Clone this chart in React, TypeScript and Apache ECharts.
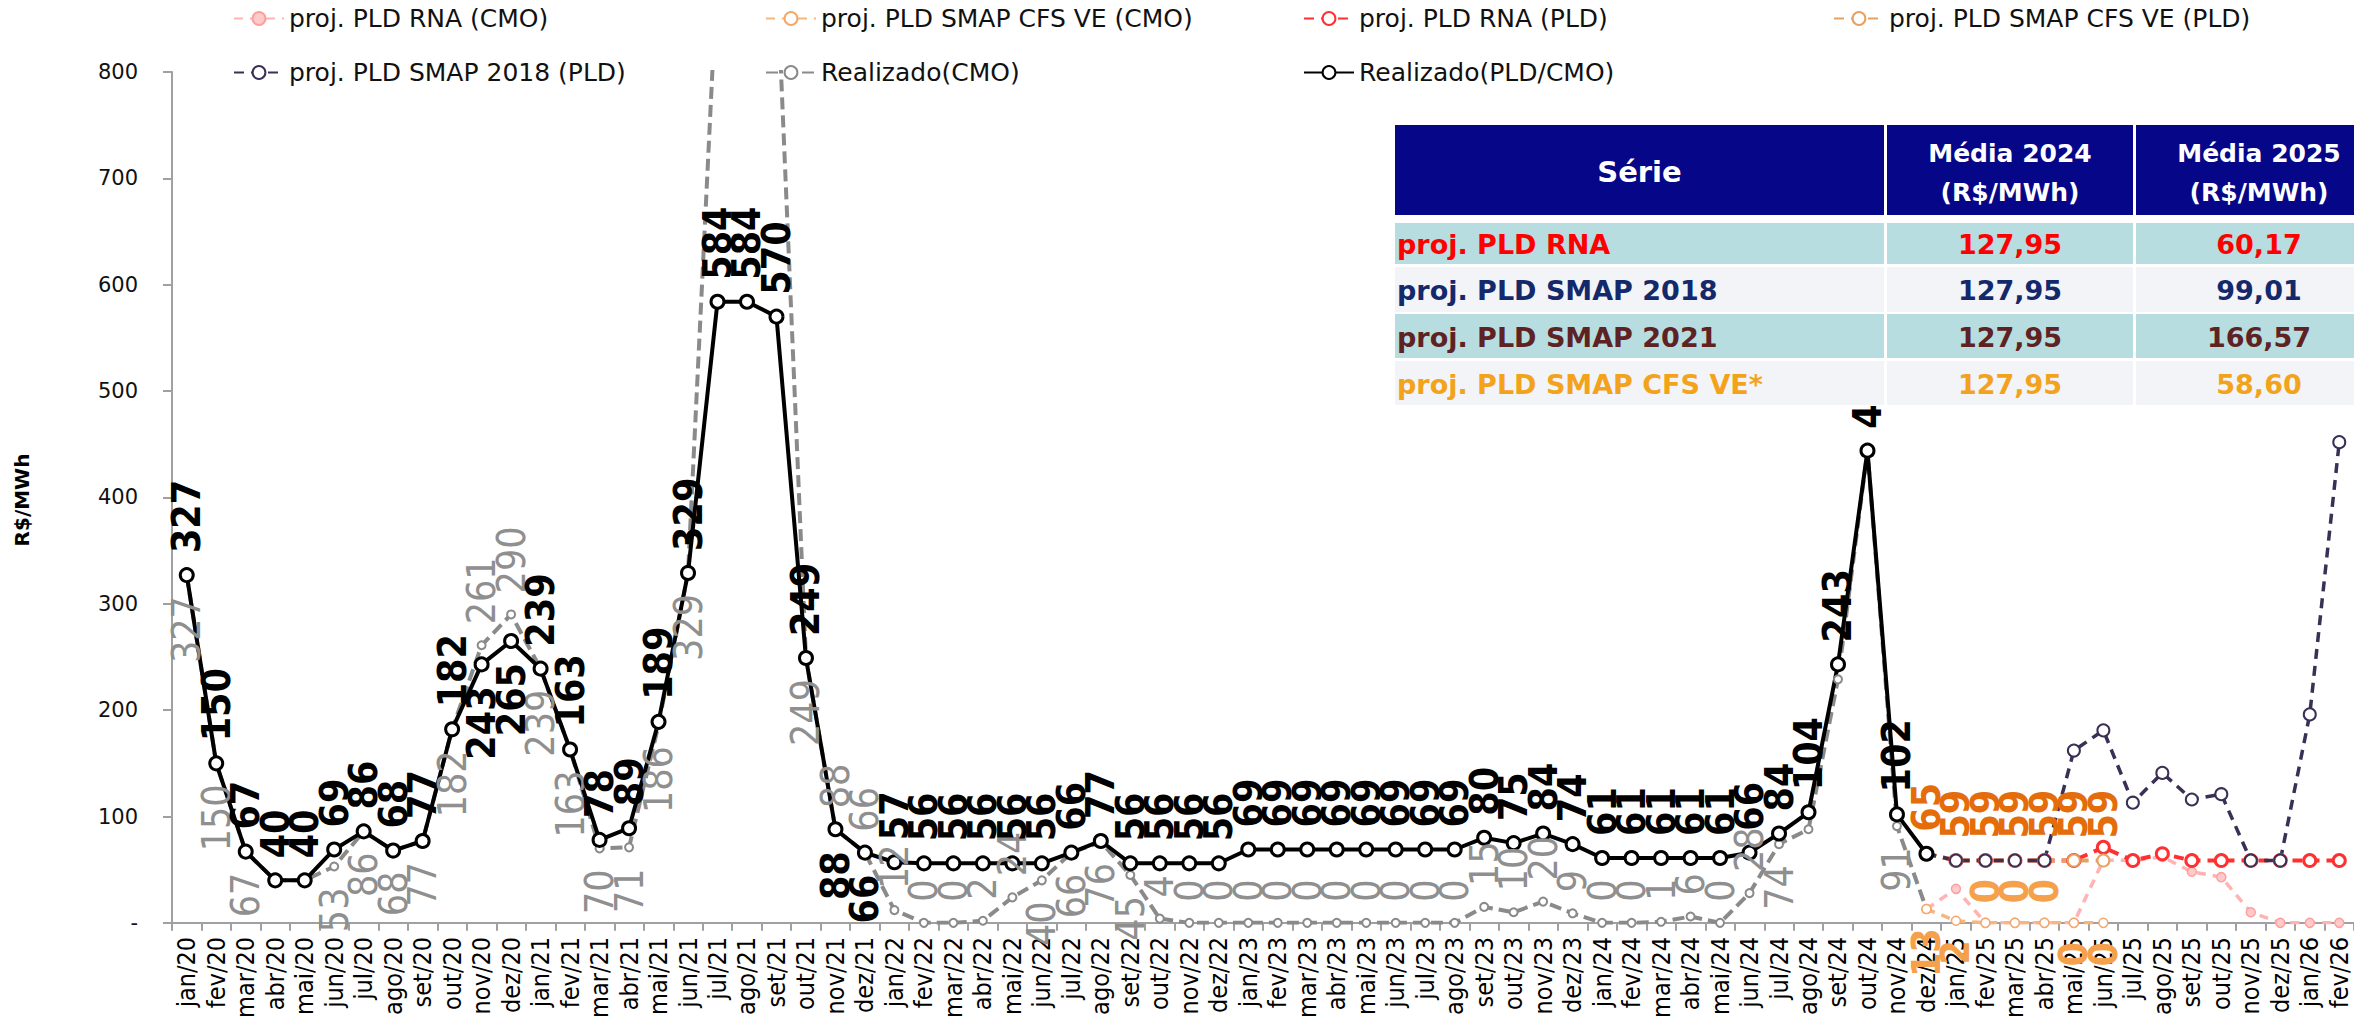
import React, { useEffect, useRef } from 'react';
import * as echarts from 'echarts';

// ---------- DATA ----------
const months = ['jan', 'fev', 'mar', 'abr', 'mai', 'jun', 'jul', 'ago', 'set', 'out', 'nov', 'dez'];
const years = ['20', '21', '22', '23', '24', '25', '26'];
const categories: string[] = years.flatMap((y) => months.map((m) => `${m}/${y}`)).slice(0, 74);

// Realizado (jan/20 .. dez/24)
const realizadoPLD = [
  327, 150, 67, 40, 40, 69, 86, 68, 77, 182, 243, 265,
  239, 163, 78, 89, 189, 329, 584, 584, 570, 249, 88, 66,
  57, 56, 56, 56, 56, 56, 66, 77, 56, 56, 56, 56,
  69, 69, 69, 69, 69, 69, 69, 69, 80, 75, 84, 74,
  61, 61, 61, 61, 61, 66, 84, 104, 243, 444, 102, 65,
];
const realizadoCMO = [
  327, 150, 67, 40, 40, 53, 86, 68, 77, 182, 261, 290,
  239, 163, 70, 71, 186, 329, 900, 1000, 900, 249, 88, 66,
  12, 0, 0, 2, 24, 40, 66, 76, 45, 4, 0, 0,
  0, 0, 0, 0, 0, 0, 0, 0, 15, 10, 20, 9,
  0, 0, 1, 6, 0, 28, 74, 88, 229, 444, 91, 13,
];
// Projections, starting at dez/24
const projStart = 59;
const rnaCMO = [13, 32, 0, 0, 0, 0, 59, 58.6, 62, 48, 43, 10, 0, 0, 0];
const rnaPLD = [65, 58.6, 58.6, 58.6, 58.6, 58.6, 71, 58.6, 65, 58.6, 58.6, 58.6, 58.6, 58.6, 58.6];
const smap2018PLD = [65, 58.6, 58.6, 58.6, 58.6, 162, 181, 113, 141, 116, 121, 58.6, 58.6, 196, 452];
const cfsPLD = [65, 58.6, 58.6, 58.6, 58.6, 58.6, 58.6];
const cfsCMO = [13, 2, 0, 0, 0, 0, 0];

const yTicks = [0, 100, 200, 300, 400, 500, 600, 700, 800];

// Table
const tableHeader = ['Série', 'Média 2024\n(R$/MWh)', 'Média 2025\n(R$/MWh)'];
const tableSeries = ['proj. PLD RNA', 'proj. PLD SMAP 2018', 'proj. PLD SMAP 2021', 'proj. PLD SMAP CFS VE*'];
const media2024 = ['127,95', '127,95', '127,95', '127,95'];
const media2025 = ['60,17', '99,01', '166,57', '58,60'];

// ---------- STYLE ----------
const NARROW = "'Liberation Sans Narrow', 'DejaVu Sans Condensed', 'Liberation Sans', sans-serif";
const WIDE = "'DejaVu Sans', sans-serif";
const tableColors = ['#FF0000', '#14296B', '#5E2222', '#F2A31B'];
const rowFills = ['#B7DDE0', '#F3F4F8', '#B7DDE0', '#F3F4F8'];

const padRealized = (a: number[]) => categories.map((_, i) => (i < a.length ? a[i] : null));
const padProj = (a: number[]) => categories.map((_, i) => (i >= projStart && i - projStart < a.length ? a[i - projStart] : null));

const blackBelow = [10, 11, 22, 23];
const blackHidden = [59];
const grayAboveIdx = [10, 11, 22, 23];
const grayHidden = [3, 4, 18, 19, 20, 55, 56, 57, 59];
const cfsCmoAbove = [2, 3, 4];

const fmt = (p: any) => String(Math.round(Array.isArray(p.value) ? p.value[1] : p.value));

export default function App() {
  const ref = useRef<HTMLDivElement>(null);
  useEffect(() => {
    if (!ref.current) return;
    const chart = echarts.init(ref.current, undefined, { renderer: 'svg' });

    const blackData = padRealized(realizadoPLD).map((v, i) => {
      if (v == null) return null;
      if (blackHidden.includes(i)) return { value: v, label: { show: false } };
      if (blackBelow.includes(i)) return { value: v, label: { position: 'bottom', align: 'right' } };
      return { value: v };
    });
    const grayData = padRealized(realizadoCMO).map((v, i) => {
      if (v == null) return null;
      if (grayHidden.includes(i)) return { value: v, label: { show: false } };
      if (v < 35 || grayAboveIdx.includes(i)) return { value: v, label: { position: 'top', align: 'left' } };
      return { value: v };
    });
    const cfsCmoData = padProj(cfsCMO).map((v, i) => {
      if (v == null) return null;
      if (cfsCmoAbove.includes(i - projStart)) return { value: v, label: { position: 'top', align: 'left' } };
      return { value: v };
    });

    const labelBase = {
      show: true,
      rotate: 90,
      verticalAlign: 'middle',
      fontFamily: NARROW,
      fontSize: 39,
      formatter: fmt,
    };

    const series: any[] = [
      {
        name: 'Realizado(CMO)',
        type: 'line',
        data: grayData,
        symbol: 'circle',
        symbolSize: 8,
        showAllSymbol: true,
        lineStyle: { color: '#8A8A8A', width: 4, type: [12, 6] },
        itemStyle: { color: '#fff', borderColor: '#8A8A8A', borderWidth: 2 },
        label: { ...labelBase, position: 'bottom', align: 'right', distance: 16, color: '#8F8F8F', fontWeight: 'normal' },
      },
      {
        name: 'proj. PLD RNA (CMO)',
        type: 'line',
        data: padProj(rnaCMO),
        symbol: 'circle',
        symbolSize: 9,
        showAllSymbol: true,
        lineStyle: { color: '#FFB3B3', width: 3.5, type: [9, 7] },
        itemStyle: { color: '#FFCACA', borderColor: '#FF9E9E', borderWidth: 1.5 },
      },
      {
        name: 'proj. PLD SMAP CFS VE (CMO)',
        type: 'line',
        data: cfsCmoData,
        symbol: 'circle',
        symbolSize: 9,
        showAllSymbol: true,
        lineStyle: { color: '#F6B680', width: 3.5, type: [9, 7] },
        itemStyle: { color: '#fff', borderColor: '#F4A86A', borderWidth: 1.5 },
        label: { ...labelBase, position: 'bottom', align: 'right', distance: 14, color: '#F5A04A', fontWeight: 'bold' },
      },
      {
        name: 'proj. PLD RNA (PLD)',
        type: 'line',
        data: padProj(rnaPLD),
        symbol: 'circle',
        symbolSize: 12,
        showAllSymbol: true,
        lineStyle: { color: '#FF3030', width: 4, type: [10, 7] },
        itemStyle: { color: '#fff', borderColor: '#FF3030', borderWidth: 3 },
      },
      {
        name: 'proj. PLD SMAP CFS VE (PLD)',
        type: 'line',
        data: padProj(cfsPLD),
        symbol: 'circle',
        symbolSize: 12,
        showAllSymbol: true,
        lineStyle: { color: '#E2A266', width: 4, type: [10, 7] },
        itemStyle: { color: '#fff', borderColor: '#E8A060', borderWidth: 2 },
        label: { ...labelBase, position: 'top', align: 'left', distance: 15, color: '#E46C0A', fontWeight: 'bold' },
      },
      {
        name: 'proj. PLD SMAP 2018 (PLD)',
        type: 'line',
        data: padProj(smap2018PLD),
        symbol: 'circle',
        symbolSize: 12,
        showAllSymbol: true,
        lineStyle: { color: '#3A2F55', width: 3.5, type: [10, 7] },
        itemStyle: { color: '#fff', borderColor: '#3A2F55', borderWidth: 2 },
      },
      {
        name: 'Realizado(PLD/CMO)',
        type: 'line',
        data: blackData,
        symbol: 'circle',
        symbolSize: 13,
        showAllSymbol: true,
        lineStyle: { color: '#000', width: 4 },
        itemStyle: { color: '#fff', borderColor: '#000', borderWidth: 3 },
        label: { ...labelBase, position: 'top', align: 'left', distance: 14, color: '#000', fontWeight: 'bold' },
      },
    ];

    const legendPos = [
      { name: 'proj. PLD RNA (CMO)', left: 233, cy: 21 },
      { name: 'proj. PLD SMAP CFS VE (CMO)', left: 765, cy: 21 },
      { name: 'proj. PLD RNA (PLD)', left: 1303, cy: 21 },
      { name: 'proj. PLD SMAP CFS VE (PLD)', left: 1833, cy: 21 },
      { name: 'proj. PLD SMAP 2018 (PLD)', left: 233, cy: 75 },
      { name: 'Realizado(CMO)', left: 765, cy: 75 },
      { name: 'Realizado(PLD/CMO)', left: 1303, cy: 75 },
    ];
    const legends = legendPos.map((l) => ({
      data: [l.name],
      left: l.left,
      top: l.cy - 15,
      padding: 0,
      itemWidth: 50,
      itemHeight: 16,
      selectedMode: false,
      textStyle: { fontFamily: WIDE, fontSize: 25, color: '#111' },
    }));

    // Table graphics
    const x0 = 1395;
    const colX = [
      [1395, 1884],
      [1887, 2133],
      [2136, 2382],
    ];
    const rowY = [
      [223, 264],
      [267, 312],
      [314, 358],
      [361, 405],
    ];
    const graphics: any[] = [];
    graphics.push({ type: 'rect', z: 100, shape: { x: x0, y: 125, width: 2382 - x0, height: 405 - 125 }, style: { fill: '#fff' } });
    colX.forEach(([a, b], c) => {
      graphics.push({ type: 'rect', z: 101, shape: { x: a, y: 125, width: b - a, height: 90 }, style: { fill: '#060689' } });
      const lines = tableHeader[c].split('\n');
      if (lines.length === 1) {
        graphics.push({ type: 'text', z: 102, x: (a + b) / 2, y: 172, style: { text: lines[0], fill: '#fff', fontFamily: WIDE, fontWeight: 'bold', fontSize: 29, align: 'center', verticalAlign: 'middle' } });
      } else {
        lines.forEach((t, k) => {
          graphics.push({ type: 'text', z: 102, x: (a + b) / 2, y: k === 0 ? 153 : 192, style: { text: t, fill: '#fff', fontFamily: WIDE, fontWeight: 'bold', fontSize: 25, align: 'center', verticalAlign: 'middle' } });
        });
      }
    });
    rowY.forEach(([t, b], r) => {
      colX.forEach(([a, e]) => {
        graphics.push({ type: 'rect', z: 101, shape: { x: a, y: t, width: e - a, height: b - t }, style: { fill: rowFills[r] } });
      });
      const cy = (t + b) / 2 + 1;
      const st = { fill: tableColors[r], fontFamily: WIDE, fontWeight: 'bold', fontSize: 27, verticalAlign: 'middle' };
      graphics.push({ type: 'text', z: 102, x: 1397, y: cy, style: { ...st, text: tableSeries[r], align: 'left' } });
      graphics.push({ type: 'text', z: 102, x: (colX[1][0] + colX[1][1]) / 2, y: cy, style: { ...st, text: media2024[r], align: 'center' } });
      graphics.push({ type: 'text', z: 102, x: (colX[2][0] + colX[2][1]) / 2, y: cy, style: { ...st, text: media2025[r], align: 'center' } });
    });
    graphics.push({
      type: 'text', z: 102, x: 22, y: 500, rotation: Math.PI / 2,
      style: { text: 'R$/MWh', fill: '#000', fontFamily: WIDE, fontWeight: 'bold', fontSize: 20, align: 'center', verticalAlign: 'middle' },
    });

    chart.setOption({
      animation: false,
      backgroundColor: '#fff',
      grid: { left: 172, right: -2, top: 72, bottom: 80, containLabel: false },
      legend: legends,
      xAxis: {
        type: 'category',
        data: categories,
        boundaryGap: true,
        axisLine: { lineStyle: { color: '#A0A0A0', width: 2 } },
        axisTick: { show: true, interval: 0, length: 8, lineStyle: { color: '#A0A0A0', width: 2 } },
        axisLabel: { interval: 0, rotate: 90, margin: 14, color: '#000', fontFamily: NARROW, fontSize: 25 },
        splitLine: { show: false },
      },
      yAxis: {
        type: 'value',
        min: yTicks[0],
        max: yTicks[yTicks.length - 1],
        interval: 100,
        axisLine: { show: true, lineStyle: { color: '#A0A0A0', width: 2 } },
        axisTick: { show: true, length: 9, lineStyle: { color: '#A0A0A0', width: 2 } },
        axisLabel: { margin: 34, color: '#111', fontFamily: WIDE, fontSize: 21, formatter: (v: number) => (v === 0 ? '-' : String(v)) },
        splitLine: { show: false },
      },
      series,
      graphic: graphics,
    });
    return () => chart.dispose();
  }, []);
  return <div ref={ref} style={{ position: 'fixed', left: 0, top: 0, width: 2354, height: 1021, background: '#fff' }} />;
}
